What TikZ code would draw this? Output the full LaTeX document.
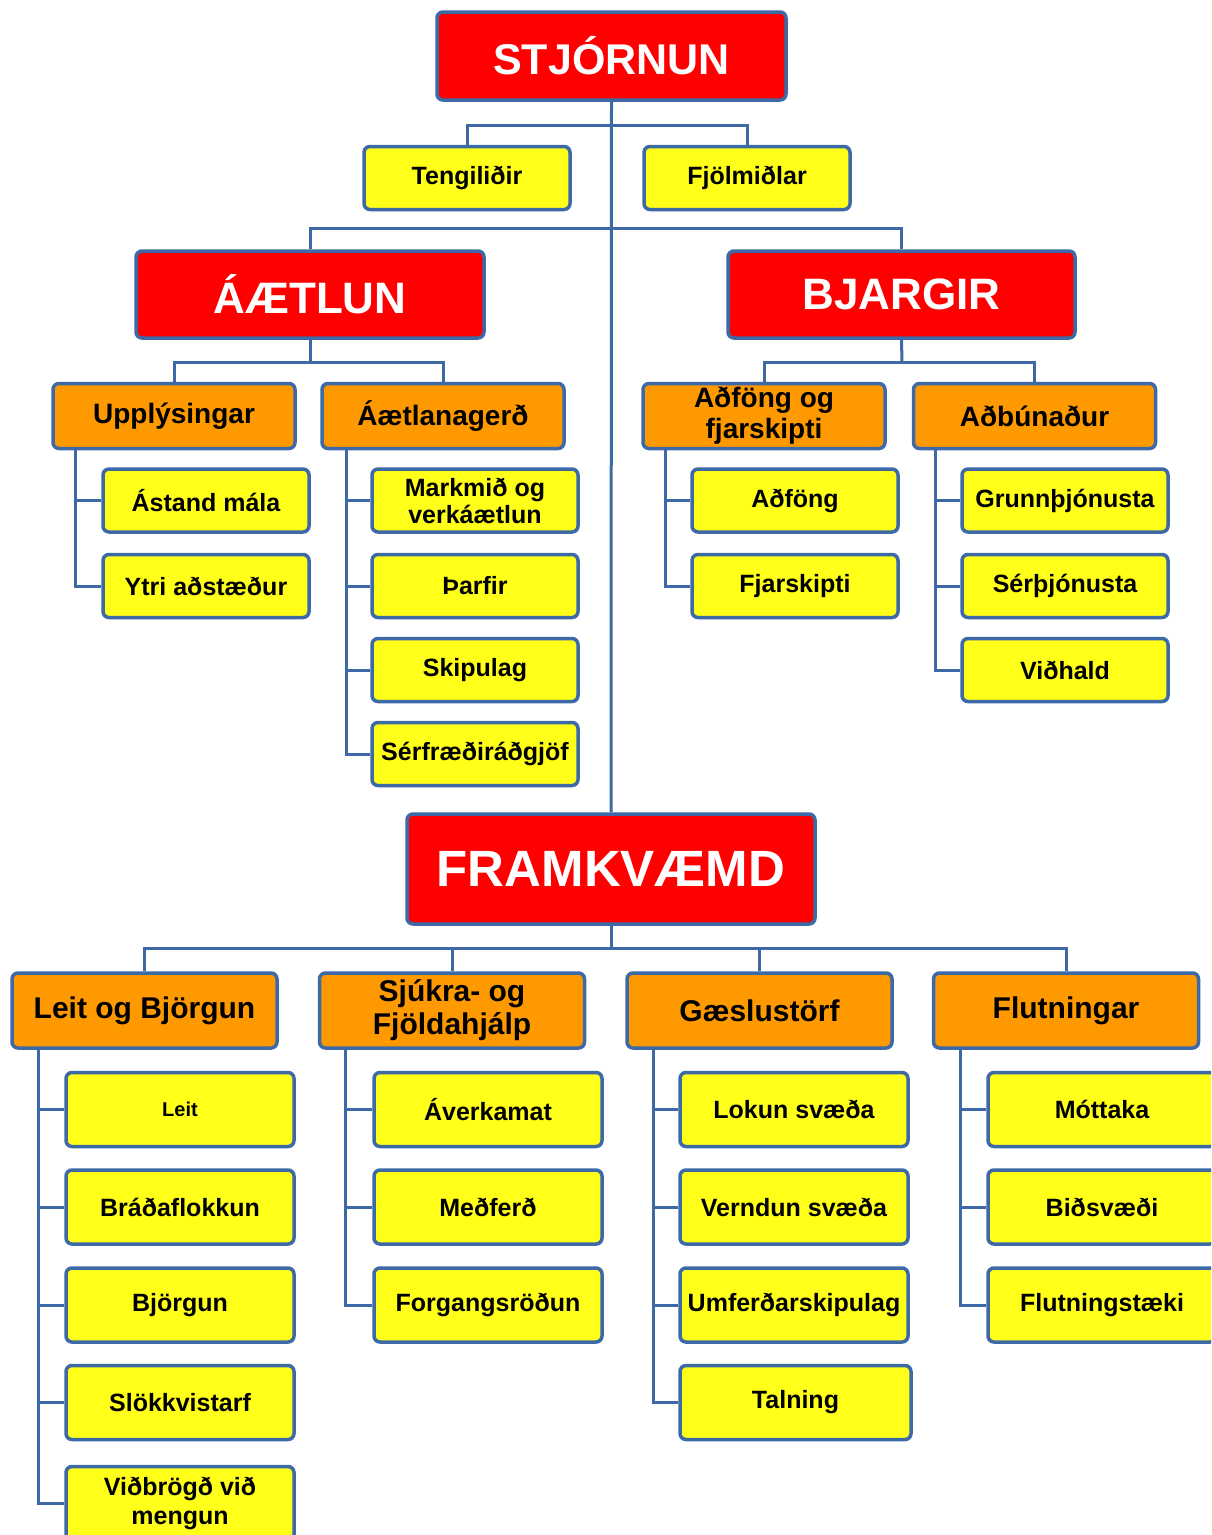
\documentclass[tikz,border=0pt]{standalone}
\usepackage{fontspec}
\setmainfont{Liberation Sans}
\usetikzlibrary{calc}
\definecolor{bord}{HTML}{3D69A6}
\definecolor{redf}{HTML}{FF0000}
\definecolor{orf}{HTML}{FF9900}
\definecolor{yef}{HTML}{FFFF1A}
\tikzset{
  box/.style={draw=bord, line width=3.5pt, rounded corners=6pt, inner sep=0pt, align=center, font=\bfseries},
  redbox/.style={box, fill=redf, text=white},
  orbox/.style={box, fill=orf, text=black, minimum width=242pt, minimum height=65pt, font=\bfseries\fontsize{28}{31}\selectfont},
  obox/.style={box, fill=orf, text=black, minimum width=265pt, minimum height=75pt, font=\bfseries\fontsize{30}{33}\selectfont},
  ybox/.style={box, fill=yef, text=black, minimum width=206pt, minimum height=63pt, font=\bfseries\fontsize{25}{27}\selectfont},
  yboxb/.style={box, fill=yef, text=black, minimum width=228pt, minimum height=74pt, font=\bfseries\fontsize{25}{29}\selectfont},
  conn/.style={draw=bord, line width=3pt}
}
\begin{document}
\begin{tikzpicture}[x=1pt,y=-1pt]
\useasboundingbox (0,0) rectangle (1211,1535);
\clip (0,0) rectangle (1211,1535);
\fill[white] (0,0) rectangle (1211,1535);
% junction coordinates
\coordinate (j1) at (611,125);
\coordinate (j2) at (611,228);
\coordinate (j3) at (310,362);
\coordinate (j4) at (902,362);
\coordinate (j5) at (611,948);
% red boxes
\node[redbox, minimum width=349pt, minimum height=88pt, font=\bfseries\fontsize{43}{46}\selectfont] (stj) at (611.5,56) {STJÓRNUN};
\node[redbox, minimum width=348pt, minimum height=87pt, font=\bfseries\fontsize{44}{46}\selectfont] (aetl) at (310,294.5) {ÁÆTLUN};
\node[redbox, minimum width=347pt, minimum height=87pt, font=\bfseries\fontsize{44}{46}\selectfont] (bjarg) at (901.5,294.5) {BJARGIR};
\node[redbox, minimum width=408pt, minimum height=110pt, font=\bfseries\fontsize{51}{54}\selectfont] (fram) at (611,869) {FRAMKVÆMD};
% top yellow
\node[ybox] (teng) at (467,178) {Tengiliðir};
\node[ybox] (fjol) at (747,178) {Fjölmiðlar};
% mid orange
\node[orbox] (upp) at (174,416) {Upplýsingar};
\node[orbox] (aetlg) at (443,416) {Áætlanagerð};
\node[orbox] (adf) at (764,416) {Aðföng og\\fjarskipti};
\node[orbox] (adb) at (1034.5,416) {Aðbúnaður};
% mid yellow
\node[ybox] (ast) at (206,500.5) {Ástand mála};
\node[ybox] (ytri) at (206,586) {Ytri aðstæður};
\node[ybox] (mark) at (475,500.5) {Markmið og\\verkáætlun};
\node[ybox] (tharf) at (475,586) {Þarfir};
\node[ybox] (skip) at (475,670) {Skipulag};
\node[ybox] (serf) at (475,754) {Sérfræðiráðgjöf};
\node[ybox] (adfo) at (795,500.5) {Aðföng};
\node[ybox] (fjar) at (795,586) {Fjarskipti};
\node[ybox] (grunn) at (1065,500.5) {Grunnþjónusta};
\node[ybox] (serth) at (1065,586) {Sérþjónusta};
\node[ybox] (vidh) at (1065,670) {Viðhald};
% bottom orange
\node[obox] (leitb) at (144.5,1010.5) {Leit og Björgun};
\node[obox] (sjuk) at (452,1010.5) {Sjúkra- og\\Fjöldahjálp};
\node[obox] (gaes) at (759.5,1010.5) {Gæslustörf};
\node[obox] (flut) at (1066,1010.5) {Flutningar};
% bottom yellow
\node[yboxb, font=\bfseries\fontsize{20}{22}\selectfont] (leit) at (180,1109.5) {Leit};
\node[yboxb] (brad) at (180,1207) {Bráðaflokkun};
\node[yboxb] (bjorg) at (180,1305) {Björgun};
\node[yboxb] (slokk) at (180,1402.5) {Slökkvistarf};
\node[yboxb] (vidb) at (180,1503.5) {Viðbrögð við\\mengun};
\node[yboxb] (aver) at (488,1109.5) {Áverkamat};
\node[yboxb] (medf) at (488,1207) {Meðferð};
\node[yboxb] (forg) at (488,1305) {Forgangsröðun};
\node[yboxb] (lokun) at (794,1109.5) {Lokun svæða};
\node[yboxb] (vernd) at (794,1207) {Verndun svæða};
\node[yboxb] (umf) at (794,1305) {Umferðarskipulag};
\node[yboxb, minimum width=231pt] (taln) at (795.5,1402.5) {Talning};
\node[yboxb] (mott) at (1102,1109.5) {Móttaka};
\node[yboxb] (bids) at (1102,1207) {Biðsvæði};
\node[yboxb] (flst) at (1102,1305) {Flutningstæki};
% connectors
\draw[conn] (stj.south) -- (fram.north);
\draw[conn] (teng.north) |- (j1) -| (fjol.north);
\draw[conn] (aetl.north) |- (j2) -| (bjarg.north);
\draw[conn] (aetl.south) -- (j3);
\draw[conn] (upp.north) |- (j3) -| (aetlg.north);
\draw[conn] (bjarg.south) -- (j4);
\draw[conn] (adf.north) |- (j4) -| (adb.north);
\draw[conn] (fram.south) -- (j5);
\draw[conn] (leitb.north) |- (j5) -| (flut.north);
\draw[conn] (sjuk.north) |- (j5) -| (gaes.north);
% side connectors
\foreach \p/\off/\c in {upp/24/ast, upp/24/ytri, aetlg/26/mark, aetlg/26/tharf, aetlg/26/skip, aetlg/26/serf,
  adf/24/adfo, adf/24/fjar, adb/24/grunn, adb/24/serth, adb/24/vidh,
  leitb/28/leit, leitb/28/brad, leitb/28/bjorg, leitb/28/slokk, leitb/28/vidb,
  sjuk/28/aver, sjuk/28/medf, sjuk/28/forg,
  gaes/28/lokun, gaes/28/vernd, gaes/28/umf, gaes/28/taln,
  flut/29/mott, flut/29/bids, flut/29/flst}
  {\draw[conn] ([xshift=\off pt]\p.south west) |- (\c.west);}
\end{tikzpicture}
\end{document}
